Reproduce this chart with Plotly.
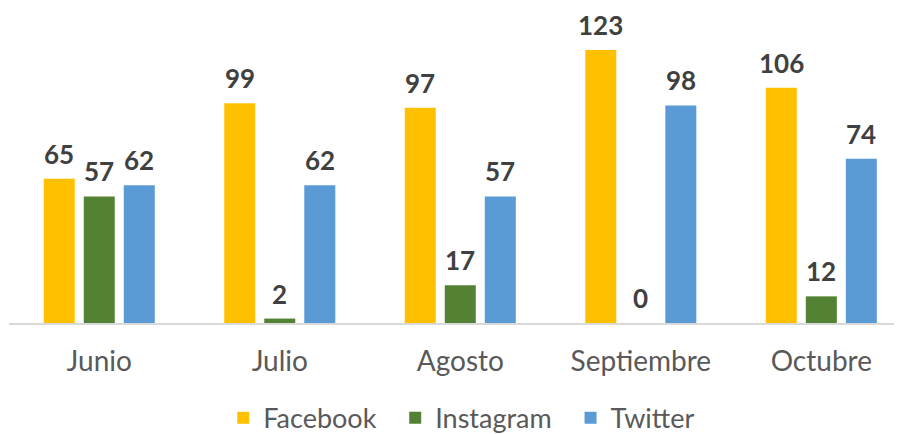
import plotly.graph_objects as go

months = ["Junio", "Julio", "Agosto", "Septiembre", "Octubre"]
facebook = [65, 99, 97, 123, 106]
instagram = [57, 2, 17, 0, 12]
twitter = [62, 62, 57, 98, 74]

series = [
	("Facebook\u00a0\u00a0", facebook, "#FFC000"),
	("Instagram\u00a0\u00a0", instagram, "#548235"),
	("Twitter", twitter, "#5B9BD5"),
]

fig = go.Figure()
for i, (name, vals, color) in enumerate(series):
	fig.add_trace(go.Bar(
		x=months, y=vals, name=name,
		marker=dict(color=color, line=dict(width=0)),
	))
	# value labels, sitting a bit above each bar
	for m, v in zip(months, vals):
		fig.add_annotation(x=m, y=v, text=f"<b>{v}</b>", showarrow=False,
						   xshift=(i - 1) * 40, yanchor="bottom", yshift=7,
						   font=dict(family="Lato", size=26, color="#404040"))

# page body has an 8px margin, so the figure is a bit smaller than the window
fig.update_layout(
	barmode="group", bargap=0.335, bargroupgap=0.225,
	width=894, height=426,
	margin=dict(l=1, r=0, t=0, b=111, autoexpand=False),
	plot_bgcolor="white", paper_bgcolor="white",
	font=dict(family="Lato", color="#595959"),
	legend=dict(orientation="h", x=0.507, xanchor="center", y=-0.302, yanchor="middle",
				font=dict(size=27, color="#595959"), itemwidth=30, traceorder="normal"),
)
fig.update_xaxes(range=[-0.5, 4.447], showline=True, linecolor="#D9D9D9", linewidth=2,
				 tickfont=dict(size=28, color="#595959"), ticks="", ticklabelstandoff=12,
				 automargin=False)
fig.update_yaxes(range=[0, 141.9], visible=False, showgrid=False, zeroline=False, automargin=False)

fig.write_html("out.html")
